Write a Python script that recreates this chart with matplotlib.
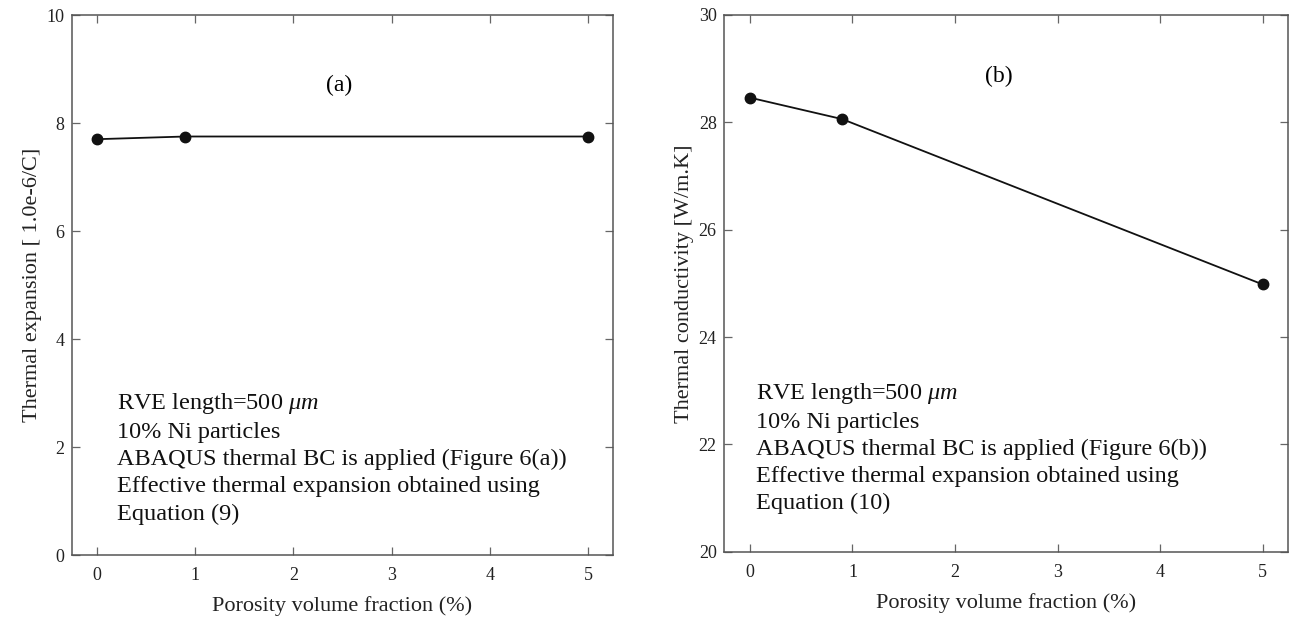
import numpy as np
import matplotlib
matplotlib.use('Agg')
import matplotlib.pyplot as plt

plt.rcParams['font.family'] = ['Liberation Serif', 'DejaVu Serif']
plt.rcParams['mathtext.fontset'] = 'custom'
plt.rcParams['mathtext.rm'] = 'Liberation Serif'
plt.rcParams['mathtext.it'] = 'Liberation Serif:italic'

# Porosity volume fraction (%)
porosity = [0, 0.9, 5]
# (a) thermal expansion [1.0e-6/C]
expansion = [7.70, 7.75, 7.75]
# (b) thermal conductivity [W/m.K]
conductivity = [28.46, 28.06, 24.98]

notes_a = ("RVE length=500 $\\mu m$\n10% Ni particles\n"
           "ABAQUS thermal BC is applied (Figure 6(a))\n"
           "Effective thermal expansion obtained using\nEquation (9)")
notes_b = ("RVE length=500 $\\mu m$\n10% Ni particles\n"
           "ABAQUS thermal BC is applied (Figure 6(b))\n"
           "Effective thermal expansion obtained using\nEquation (10)")

fig = plt.figure(figsize=(12.95, 6.18), dpi=100)
# axes boxes in pixels: left 72-613 x 15-555, right 724-1288 x 15-552
ax1 = fig.add_axes([72.3 / 1295, 1 - 555 / 618, 540.4 / 1295, 540 / 618])
ax2 = fig.add_axes([724.3 / 1295, 1 - 551.7 / 618, 564 / 1295, 536.7 / 618])


def style(ax):
    ax.tick_params(direction='in', top=True, right=True, labelsize=13,
                   length=6, width=0.9, colors='#666666', labelcolor='#222222')
    ax.tick_params(axis='x', pad=8.5)
    ax.tick_params(axis='y', pad=5.5)
    for s in ax.spines.values():
        s.set_linewidth(1.1)
        s.set_color('#555555')
    ax.set_xticks(range(0, 6))
    ax.set_xlim(-0.25, 5.25)
    ax.set_xlabel('Porosity volume fraction (%)', fontsize=16, color='#222222', labelpad=9)


ax1.plot(porosity, expansion, '-o', color='#111111', lw=1.3, ms=7.5)
ax1.set_ylim(0, 10)
ax1.set_yticks(range(0, 11, 2))
style(ax1)
ax1.set_ylabel('Thermal expansion [ 1.0e-6/C]', fontsize=16, color='#222222', labelpad=3)
ax1.text(2.47, 8.70, '(a)', fontsize=17, ha='center', va='center')
ax1.text(0.082, 0.303, notes_a, transform=ax1.transAxes, fontsize=17.5,
         va='top', ha='left', linespacing=1.37, color='#111111')

ax2.plot(porosity, conductivity, '-o', color='#111111', lw=1.3, ms=7.5)
ax2.set_ylim(20, 30)
ax2.set_yticks(range(20, 31, 2))
style(ax2)
ax2.set_ylabel('Thermal conductivity [W/m.K]', fontsize=16, color='#222222', labelpad=3)
ax2.text(2.43, 28.85, '(b)', fontsize=17, ha='center', va='center')
ax2.text(0.056, 0.318, notes_b, transform=ax2.transAxes, fontsize=17.5,
         va='top', ha='left', linespacing=1.37, color='#111111')

fig.savefig('out.png', dpi=100)
